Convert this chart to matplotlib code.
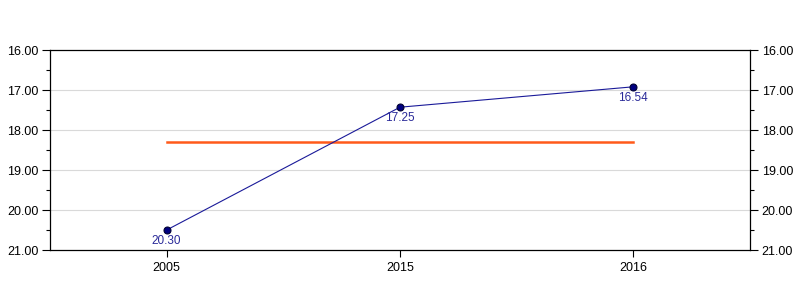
import matplotlib
matplotlib.use("Agg")
import matplotlib.pyplot as plt
import numpy as np
from matplotlib.ticker import MultipleLocator, FormatStrFormatter

years = ["2005", "2015", "2016"]
values = [20.50, 17.43, 16.92]
point_labels = ["20.30", "17.25", "16.54"]
avg_value = 18.29

plt.rcParams["font.family"] = ["Liberation Sans", "DejaVu Sans"]

fig = plt.figure(figsize=(8, 3), dpi=100)
ax = fig.add_axes([50 / 800, 50 / 300, 700 / 800, 200 / 300])

x = np.arange(len(years))
ax.plot(x, [avg_value] * len(x), color="#ff5a1a", lw=1.8, zorder=2)
ax.plot(x, values, color="#1a1a99", lw=0.8, marker="o", ms=5,
        mfc="#000080", mec="#000033", mew=0.8, zorder=3)
for xi, v, lab in zip(x, values, point_labels):
    ax.annotate(lab, (xi, v), xytext=(0, -3.5), textcoords="offset points",
                ha="center", va="top", fontsize=8.5, color="#2a2a99")

ax.set_xlim(-0.5, len(years) - 0.5)
ax.set_ylim(21, 16)
ax.set_xticks(x)
ax.set_xticklabels(years)
ax.yaxis.set_major_locator(MultipleLocator(1))
ax.yaxis.set_minor_locator(MultipleLocator(0.5))
ax.yaxis.set_major_formatter(FormatStrFormatter("%.2f"))
ax.tick_params(axis="y", which="both", left=True, right=True,
               labelleft=True, labelright=True, labelsize=9, direction="out")
ax.tick_params(axis="y", which="major", length=6, width=0.8, pad=2.5)
ax.tick_params(axis="y", which="minor", length=3, width=0.8)
ax.tick_params(axis="x", length=5, width=0.8, labelsize=9)
for t in [17, 18, 19, 20]:
    ax.axhline(t, color="#d9d9d9", lw=0.8, zorder=1)
for s in ax.spines.values():
    s.set_linewidth(0.9)

fig.savefig("out.png", dpi=100)
